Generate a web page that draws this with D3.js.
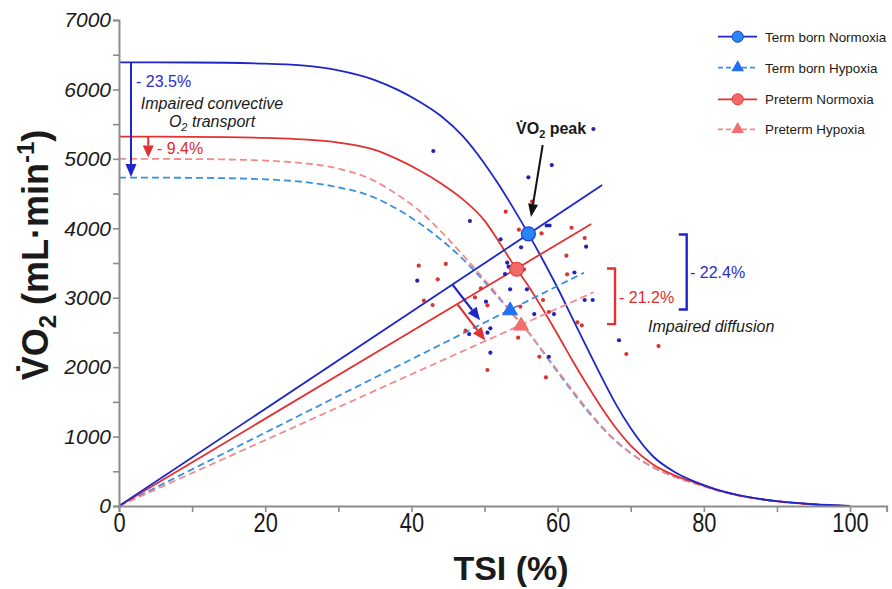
<!DOCTYPE html>
<html>
<head>
<meta charset="utf-8">
<script src="https://cdn.jsdelivr.net/npm/d3@7"></script>
<style>
  html, body { margin: 0; padding: 0; background: #fff; }
  svg { display: block; font-family: "Liberation Sans", Arial, sans-serif; }
</style>
</head>
<body>
<svg id="chart" width="892" height="589"></svg>
<script>
// ---- data ----
// TSI grid shared by the four convective (Fick) curves
const tsiGrid = [0, 10, 20, 25, 30, 35, 38, 41, 44, 47, 50, 52, 54, 56, 58, 60, 62, 64, 66, 68, 70, 73, 76, 79, 82, 86, 90, 95, 100];
const termNormoxiaCurve   = [6390, 6388, 6372, 6345, 6275, 6135, 6000, 5830, 5620, 5330, 4930, 4620, 4280, 3920, 3540, 3140, 2710, 2280, 1860, 1460, 1120, 720, 490, 340, 230, 130, 70, 25, 0];
const pretermNormoxiaCurve = [5320, 5318, 5302, 5282, 5235, 5130, 5000, 4840, 4650, 4420, 4110, 3800, 3470, 3170, 2830, 2470, 2100, 1750, 1420, 1120, 870, 600, 440, 330, 225, 128, 68, 24, 0];
const termHypoxiaCurve    = [4730, 4727, 4705, 4670, 4590, 4440, 4280, 4080, 3840, 3560, 3230, 2990, 2750, 2500, 2220, 1930, 1650, 1380, 1140, 930, 760, 560, 420, 320, 222, 127, 68, 24, 0];
const pretermHypoxiaCurve = [5000, 4997, 4975, 4940, 4860, 4680, 4490, 4260, 3960, 3620, 3260, 3010, 2740, 2500, 2230, 1950, 1670, 1400, 1150, 935, 765, 562, 421, 320, 222, 127, 68, 24, 0];

// diffusion lines run from the origin to these end points [TSI, VO2]
const diffusionEnds = {
  termNormoxia:    [66.1, 4623],
  pretermNormoxia: [64.6, 4062],
  termHypoxia:     [63.6, 3360],
  pretermHypoxia:  [64.9, 3078]
};

// VO2 peak for each group [TSI, VO2]
const peaks = {
  termNormoxia:    [56.0, 3920],
  pretermNormoxia: [54.4, 3410],
  termHypoxia:     [53.5, 2815],
  pretermHypoxia:  [55.0, 2595]
};

// individual participants [TSI, VO2]
const termDots = [
  [43.0, 5113], [64.9, 5430], [59.2, 4911], [56.0, 4734], [48.0, 4105], [58.5, 4040], [58.9, 4040],
  [52.2, 3841], [55.0, 3726], [63.9, 3735], [53.1, 3504], [53.3, 3447], [62.3, 3363], [52.8, 3341],
  [40.8, 3245], [53.5, 3121], [55.8, 3121], [50.2, 2943], [56.8, 2765], [59.5, 2765], [63.7, 2967],
  [64.8, 2967], [47.9, 2477], [50.4, 2496], [50.8, 2559], [50.8, 2208], [58.8, 2150], [68.4, 2387]
];
const pretermDots = [
  [56.5, 4383], [52.9, 4239], [54.7, 3980], [57.8, 3928], [61.9, 4008], [63.7, 3860], [41.0, 3461],
  [44.7, 3486], [61.2, 3605], [61.3, 3337], [55.4, 3409], [43.6, 3265], [49.5, 3136], [41.7, 2957],
  [42.9, 2895], [48.7, 3006], [50.4, 2891], [54.9, 2871], [58.0, 2967], [58.8, 2794], [62.7, 2646],
  [63.3, 2603], [47.4, 2525], [54.6, 2424], [57.5, 2150], [50.4, 1959], [58.4, 1854], [69.4, 2189],
  [73.8, 2304]
];

const xTicks = [0, 10, 20, 30, 40, 50, 60, 70, 80, 90, 100];
const yTicks = d3.range(0, 7001, 500);
const legendLabels = ["Term born Normoxia", "Term born Hypoxia", "Preterm Normoxia", "Preterm Hypoxia"];

// ---- styles ----
const C = {
  tn: "#1f26c9", th: "#3a8fe0", pn: "#e23131", ph: "#f28b8b",
  tnDot: "#2424b4", pnDot: "#d93434",
  tnFill: "#2a86f5", pnFill: "#f26969", thFill: "#1f72f2", phFill: "#f47070",
  axis: "#8c8c8c", text: "#1a1a1a", blueText: "#2b2bc6", redText: "#e02b2b"
};

const svg = d3.select("#chart");
const x = d3.scaleLinear().domain([0, 105]).range([119, 886.6]);
const y = d3.scaleLinear().domain([0, 7000]).range([506, 20]);

const line = d3.line().x(d => x(d[0])).y(d => y(d[1])).curve(d3.curveMonotoneX);
const zipCurve = vals => tsiGrid.map((t, i) => [t, vals[i]]);

const series = [
  { key: "termHypoxia", curve: termHypoxiaCurve, color: C.th, dash: "7,4" },
  { key: "pretermHypoxia", curve: pretermHypoxiaCurve, color: C.ph, dash: "7,4" },
  { key: "pretermNormoxia", curve: pretermNormoxiaCurve, color: C.pn, dash: null },
  { key: "termNormoxia", curve: termNormoxiaCurve, color: C.tn, dash: null }
];

const plot = svg.append("g");

// convective curves
series.forEach(s => {
  plot.append("path")
    .attr("d", line(zipCurve(s.curve)))
    .attr("fill", "none").attr("stroke", s.color).attr("stroke-width", 1.8)
    .attr("stroke-dasharray", s.dash);
});

// diffusion lines
series.forEach(s => {
  plot.append("path")
    .attr("d", d3.line().x(d => x(d[0])).y(d => y(d[1]))([[0, 0], diffusionEnds[s.key]]))
    .attr("fill", "none").attr("stroke", s.color).attr("stroke-width", 1.8)
    .attr("stroke-dasharray", s.dash);
});

// participants
plot.selectAll(".tdot").data(termDots).join("circle")
  .attr("cx", d => x(d[0])).attr("cy", d => y(d[1])).attr("r", 2.1).attr("fill", C.tnDot);
plot.selectAll(".pdot").data(pretermDots).join("circle")
  .attr("cx", d => x(d[0])).attr("cy", d => y(d[1])).attr("r", 2.1).attr("fill", C.pnDot);

// arrow helper: straight shaft with a filled triangular head
function arrow(g, x1, y1, x2, y2, color, headLen, headW, width) {
  const a = Math.atan2(y2 - y1, x2 - x1);
  const bx = x2 - headLen * Math.cos(a), by = y2 - headLen * Math.sin(a);
  g.append("line").attr("x1", x1).attr("y1", y1).attr("x2", bx).attr("y2", by)
    .attr("stroke", color).attr("stroke-width", width);
  const px = -Math.sin(a) * headW / 2, py = Math.cos(a) * headW / 2;
  g.append("path")
    .attr("d", `M${x2},${y2}L${bx + px},${by + py}L${bx - px},${by - py}Z`)
    .attr("fill", color);
}

const ann = svg.append("g");

// convective transport drop arrows
arrow(ann, x(1.64), y(6390), x(1.64), y(4740), C.tn, 13, 11, 2);
arrow(ann, x(4.0), y(5320), x(4.0), y(5020), C.pn, 12, 11, 2);

ann.append("text").attr("x", 136).attr("y", 87).attr("fill", C.blueText)
  .attr("font-size", 16).text("- 23.5%");
ann.append("text").attr("x", 212).attr("y", 108.5).attr("text-anchor", "middle")
  .attr("font-size", 16).attr("font-style", "italic").attr("fill", C.text)
  .text("Impaired convective");
const o2t = ann.append("text").attr("x", 212).attr("y", 127).attr("text-anchor", "middle")
  .attr("font-size", 16).attr("font-style", "italic").attr("fill", C.text);
o2t.append("tspan").text("O");
o2t.append("tspan").attr("font-size", 11).attr("dy", 4).text("2");
o2t.append("tspan").attr("dy", -4).text(" transport");
ann.append("text").attr("x", 157).attr("y", 154).attr("fill", C.redText)
  .attr("font-size", 16).text("- 9.4%");

// diffusion drop arrows
arrow(ann, x(45.6), y(3192), x(49.4), y(2675), C.tn, 13, 11, 2.2);
arrow(ann, x(46.3), y(2903), x(50.1), y(2385), C.pn, 13, 11, 2.2);

// VO2 peak label and pointer
const pk = ann.append("text").attr("x", 516).attr("y", 134).attr("font-size", 16)
  .attr("font-weight", "bold").attr("fill", C.text);
pk.append("tspan").text("V\u0307O");
pk.append("tspan").attr("font-size", 11).attr("dy", 4).text("2");
pk.append("tspan").attr("dy", -4).text(" peak");
arrow(ann, 542.7, 145, 531, 217, "#111", 13, 10, 2);

// diffusion brackets
function bracket(g, xv, top, bottom, color) {
  g.append("path").attr("d", `M${xv - 8},${top}H${xv}V${bottom}H${xv - 8}`)
    .attr("fill", "none").attr("stroke", color).attr("stroke-width", 2.4);
}
bracket(ann, 686.7, y(3910), y(2830), C.tn);
bracket(ann, 615, y(3420), y(2620), C.pn);
ann.append("text").attr("x", 690).attr("y", 278).attr("fill", C.blueText)
  .attr("font-size", 16).text("- 22.4%");
ann.append("text").attr("x", 619).attr("y", 303).attr("fill", C.redText)
  .attr("font-size", 16).text("- 21.2%");
ann.append("text").attr("x", 648).attr("y", 332).attr("fill", C.text)
  .attr("font-size", 16).attr("font-style", "italic").text("Impaired diffusion");

// peak markers
const mk = svg.append("g");
mk.append("path").attr("d", d3.symbol(d3.symbolTriangle).size(95)())
  .attr("transform", `translate(${x(peaks.termHypoxia[0])},${y(peaks.termHypoxia[1])})`)
  .attr("fill", C.thFill).attr("stroke", "#2a6fe6").attr("stroke-width", 1);
mk.append("path").attr("d", d3.symbol(d3.symbolTriangle).size(95)())
  .attr("transform", `translate(${x(peaks.pretermHypoxia[0])},${y(peaks.pretermHypoxia[1])})`)
  .attr("fill", C.phFill).attr("stroke", "#f06a6a").attr("stroke-width", 1);
mk.append("circle").attr("cx", x(peaks.pretermNormoxia[0])).attr("cy", y(peaks.pretermNormoxia[1]))
  .attr("r", 7).attr("fill", C.pnFill).attr("stroke", "#e03c3c").attr("stroke-width", 1.2);
mk.append("circle").attr("cx", x(peaks.termNormoxia[0])).attr("cy", y(peaks.termNormoxia[1]))
  .attr("r", 7).attr("fill", C.tnFill).attr("stroke", "#1f3fd2").attr("stroke-width", 1.2);

// axes
const xAxis = svg.append("g").attr("transform", "translate(0,506)")
  .call(d3.axisBottom(x).tickValues(xTicks).tickSizeOuter(0).tickSize(6)
    .tickFormat(d => d % 20 === 0 ? d : ""));
const yAxis = svg.append("g").attr("transform", "translate(119,0)")
  .call(d3.axisLeft(y).tickValues(yTicks).tickSizeOuter(0).tickSize(6)
    .tickFormat(d => d % 1000 === 0 ? d : ""));
[xAxis, yAxis].forEach(a => {
  a.select(".domain").attr("stroke", C.axis).attr("stroke-width", 2);
  a.selectAll(".tick line").attr("stroke", C.axis).attr("stroke-width", 1.6);
});
xAxis.selectAll(".tick text").attr("font-size", 28).attr("fill", C.text)
  .attr("font-family", "'Liberation Sans', Arial, sans-serif")
  .attr("y", 6).attr("transform", "scale(0.78,1)");
yAxis.selectAll(".tick text").attr("font-size", 21).attr("font-style", "italic")
  .attr("fill", C.text).attr("font-family", "'Liberation Sans', Arial, sans-serif").attr("x", -8);

// axis titles
svg.append("text").attr("x", 511).attr("y", 580).attr("text-anchor", "middle")
  .attr("font-size", 34).attr("font-weight", "bold").attr("fill", C.text).text("TSI (%)");
const yl = svg.append("text").attr("transform", "translate(48,255) rotate(-90)")
  .attr("text-anchor", "middle").attr("font-size", 36).attr("font-weight", "bold").attr("fill", C.text);
yl.append("tspan").text("V\u0307O");
yl.append("tspan").attr("font-size", 24).attr("dy", 8).text("2");
yl.append("tspan").attr("dy", -8).text(" (mL\u00B7min");
yl.append("tspan").attr("font-size", 24).attr("dy", -14).text("-1");
yl.append("tspan").attr("dy", 14).text(")");

// legend
const legendRows = [
  { label: legendLabels[0], color: C.tn, dash: null, sym: "circle", fill: C.tnFill, stroke: "#1f3fd2" },
  { label: legendLabels[1], color: C.th, dash: "5,3", sym: "tri", fill: C.thFill, stroke: "#2a6fe6" },
  { label: legendLabels[2], color: C.pn, dash: null, sym: "circle", fill: C.pnFill, stroke: "#e03c3c" },
  { label: legendLabels[3], color: C.ph, dash: "5,3", sym: "tri", fill: C.phFill, stroke: "#f06a6a" }
];
const rowY = [36.7, 67.7, 99.3, 129.3];
const lg = svg.append("g");
legendRows.forEach((r, i) => {
  const g = lg.append("g").attr("transform", `translate(0,${rowY[i]})`);
  g.append("line").attr("x1", 718).attr("x2", 757).attr("stroke", r.color)
    .attr("stroke-width", 1.8).attr("stroke-dasharray", r.dash);
  if (r.sym === "circle") {
    g.append("circle").attr("cx", 737.7).attr("r", 5.6).attr("fill", r.fill)
      .attr("stroke", r.stroke).attr("stroke-width", 1);
  } else {
    g.append("path").attr("d", d3.symbol(d3.symbolTriangle).size(70)())
      .attr("transform", "translate(737.7,0)").attr("fill", r.fill);
  }
  g.append("text").attr("x", 765).attr("y", 5).attr("font-size", 13.4)
    .attr("fill", C.text).text(r.label);
});
</script>
</body>
</html>
